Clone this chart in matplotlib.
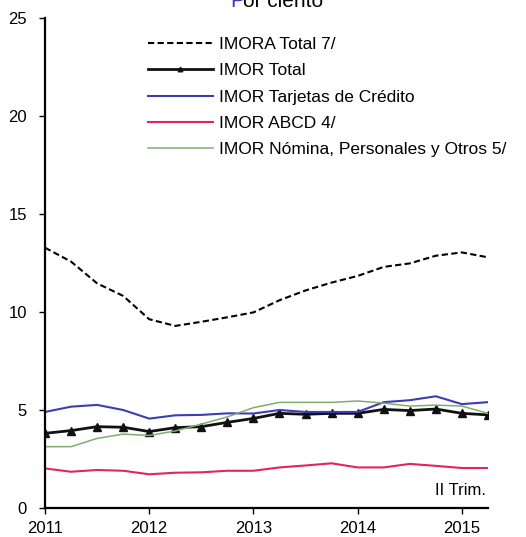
import numpy as np
import matplotlib
matplotlib.use("Agg")
from matplotlib import pyplot as plt

plt.rcParams['font.family'] = ['Liberation Sans', 'DejaVu Sans']

# quarterly, 2011 Q1 .. 2015 Q2
trimestres = np.arange(18) / 4.0 + 2011

imora_total = [13.28, 12.57, 11.46, 10.82, 9.63, 9.29, 9.5, 9.73, 9.98,
               10.6, 11.1, 11.5, 11.84, 12.3, 12.48, 12.87, 13.04, 12.79]
imor_total = [3.81, 3.95, 4.15, 4.12, 3.9, 4.1, 4.15, 4.37, 4.57,
              4.83, 4.78, 4.83, 4.83, 5.03, 4.97, 5.05, 4.83, 4.75]
imor_tarjetas = [4.9, 5.17, 5.26, 5.0, 4.56, 4.73, 4.75, 4.83, 4.82,
                 5.0, 4.9, 4.9, 4.9, 5.4, 5.5, 5.7, 5.3, 5.4]
imor_abcd = [2.02, 1.85, 1.94, 1.9, 1.72, 1.8, 1.82, 1.9, 1.9,
             2.07, 2.17, 2.28, 2.07, 2.07, 2.25, 2.15, 2.04, 2.04]
imor_nomina = [3.13, 3.13, 3.55, 3.77, 3.7, 3.93, 4.28, 4.65, 5.12,
               5.39, 5.39, 5.39, 5.46, 5.35, 5.2, 5.25, 5.2, 4.83]

etiquetas = ['IMORA Total 7/', 'IMOR Total', 'IMOR Tarjetas de Crédito',
             'IMOR ABCD 4/', 'IMOR Nómina, Personales y Otros 5/']
anios = [2011, 2012, 2013, 2014, 2015]

fig = plt.figure(figsize=(5.26, 5.37), dpi=100)
ax = fig.add_axes([0.0856, 0.054, 0.842, 0.9125])

ax.plot(trimestres, imora_total, color='black', lw=1.5, ls=(0, (3, 1.6)), label=etiquetas[0])
ax.plot(trimestres, imor_total, color='#111111', lw=2, marker='^', ms=6, label=etiquetas[1])
ax.plot(trimestres, imor_tarjetas, color='#3c3cb4', lw=1.5, label=etiquetas[2])
ax.plot(trimestres, imor_abcd, color='#e3245e', lw=1.5, label=etiquetas[3])
ax.plot(trimestres, imor_nomina, color='#7fad6e', lw=1.1, label=etiquetas[4])

ax.set_xlim(2011, 2015.25)
ax.set_ylim(0, 25)
ax.set_xticks(anios)
ax.set_yticks([0, 5, 10, 15, 20, 25])
ax.spines['top'].set_visible(False)
ax.spines['right'].set_visible(False)
ax.spines['left'].set_linewidth(1.6)
ax.spines['bottom'].set_linewidth(1.6)
ax.tick_params(axis='both', labelsize=12, length=4, width=1, direction='out')
ax.tick_params(axis='y', pad=9)
ax.tick_params(axis='x', pad=5)

leg = ax.legend(loc='upper left', bbox_to_anchor=(0.198, 0.993), frameon=False,
                fontsize=12.5, handlelength=3.7, handletextpad=0.35,
                labelspacing=0.64, markerscale=0.55)

ax.text(2015.23, 0.9, 'II Trim.', ha='right', va='center', fontsize=12)

# titulo cortado arriba, como en el original
fig.text(0.437, 0.998, 'P', color='#3c3cb4', fontsize=15, ha='left', va='center')
fig.text(0.462, 0.998, 'or ciento', color='black', fontsize=15, ha='left', va='center')

fig.savefig('out.png', dpi=100)
